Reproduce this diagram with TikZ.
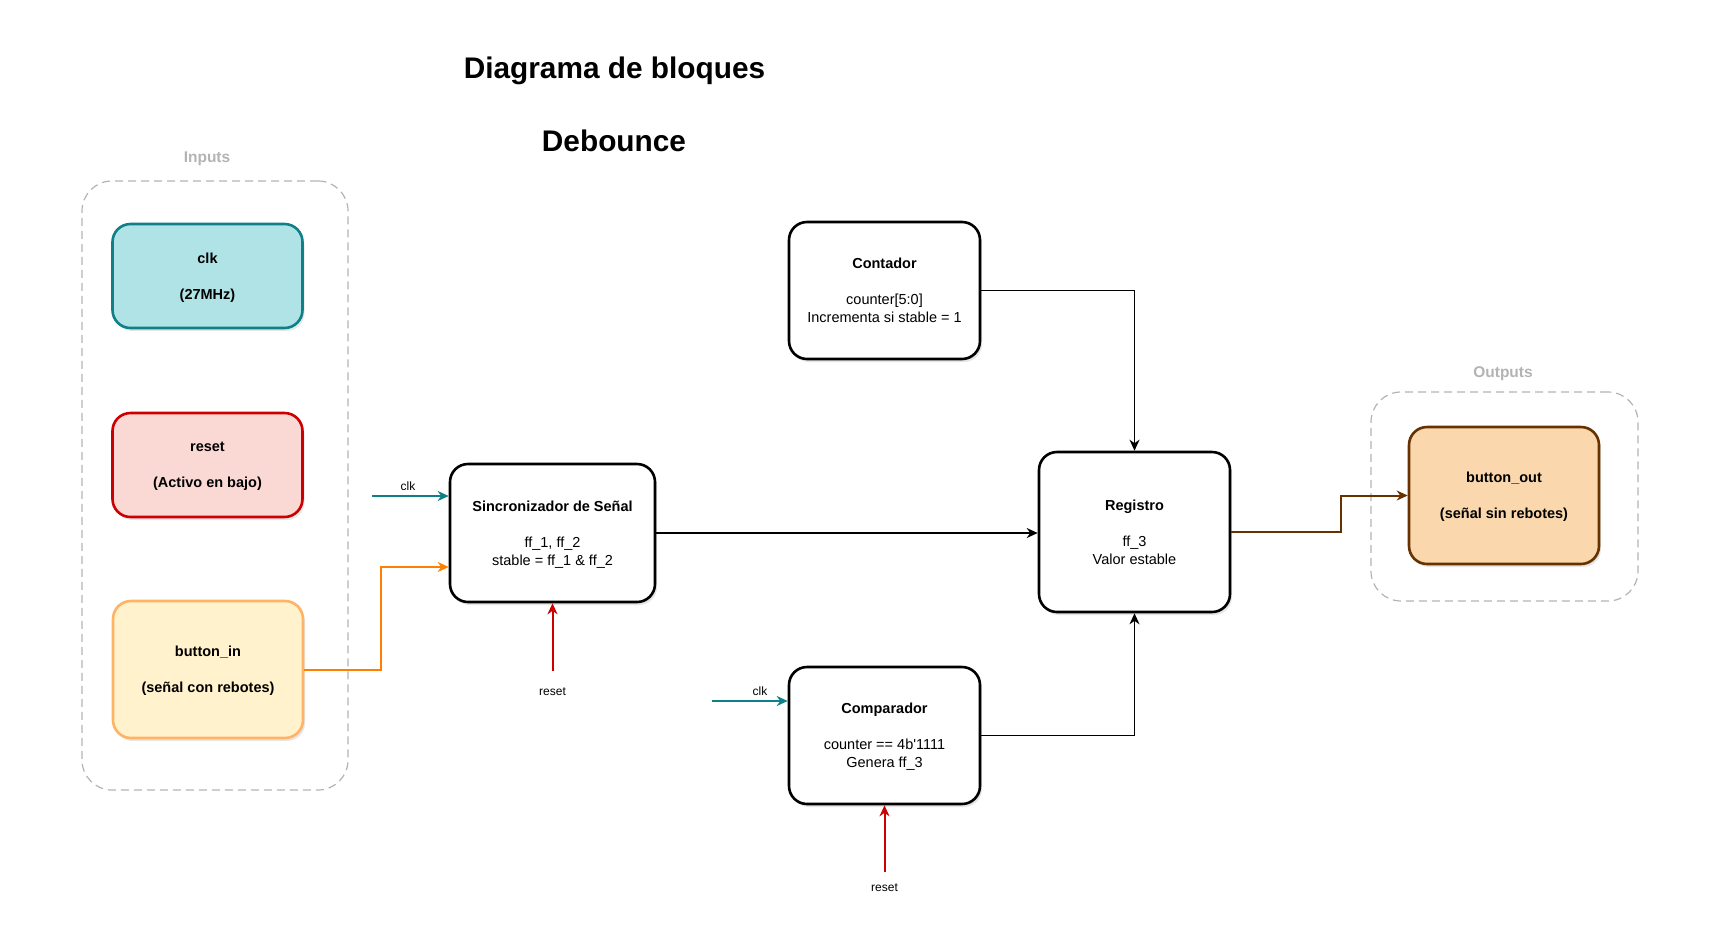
\documentclass[tikz,border=0pt]{standalone}
\usepackage{fontspec}
\setmainfont{Liberation Sans}
\usetikzlibrary{arrows.meta,shadows}

\definecolor{clkfill}{HTML}{B0E3E6}
\definecolor{clkline}{HTML}{0E8088}
\definecolor{rstfill}{HTML}{FAD9D5}
\definecolor{rstline}{HTML}{CC0000}
\definecolor{btnfill}{HTML}{FFF2CC}
\definecolor{btnline}{HTML}{FFB366}
\definecolor{outfill}{HTML}{FAD7AC}
\definecolor{outline}{HTML}{663300}
\definecolor{wireorange}{HTML}{FF8000}
\definecolor{groupgray}{HTML}{B3B3B3}

\begin{document}
\begin{tikzpicture}[
  x=1pt, y=-1pt,
  >={Stealth[length=11pt,width=10pt,inset=3.5pt]},
  groupnode/.style={rectangle, draw=groupgray, dash pattern=on 8pt off 5pt, line width=1.2pt, rounded corners=30pt, inner sep=0pt},
  grouplabel/.style={text=groupgray, font=\fontsize{15.5}{18}\selectfont\bfseries, anchor=base},
  titlenode/.style={font=\fontsize{29.8}{34}\selectfont\bfseries, anchor=base},
  signode/.style={rectangle, rounded corners=18pt, line width=2.6pt, minimum width=190pt, minimum height=104pt, inner sep=0pt, text depth=0pt, align=center, font=\fontsize{14.5}{18}\selectfont\bfseries, drop shadow={shadow xshift=2pt, shadow yshift=-3pt, opacity=0.2}},
  blocknode/.style={rectangle, draw=black, fill=white, rounded corners=18pt, line width=2.6pt, minimum width=191pt, minimum height=137pt, inner sep=0pt, text depth=0pt, align=center, font=\fontsize{14.5}{18}\selectfont, drop shadow={shadow xshift=2pt, shadow yshift=-3pt, opacity=0.2}},
  labelnode/.style={font=\fontsize{12}{14}\selectfont, anchor=base},
]
\useasboundingbox (0,0) rectangle (1728,938);

% titles
\node[titlenode] (title) at (614.5,78) {Diagrama de bloques};
\node[titlenode] (subtitle) at (614,151) {Debounce};

% inputs
\node[groupnode, minimum width=266pt, minimum height=609pt] (inputs) at (215,485.5) {};
\node[grouplabel] (inputslbl) at (207,162) {Inputs};
\node[signode, draw=clkline, fill=clkfill] (clk) at (207.5,276) {clk\\[18pt](27MHz)};
\node[signode, draw=rstline, fill=rstfill] (rst) at (207.5,465) {reset\\[18pt](Activo en bajo)};
\node[signode, draw=btnline, fill=btnfill, minimum height=137pt] (btnin) at (208,669.5) {button\_in\\[18pt](señal con rebotes)};

% outputs
\node[groupnode, minimum width=267pt, minimum height=209pt] (outputs) at (1504.5,496.5) {};
\node[grouplabel] (outputslbl) at (1503,377) {Outputs};
\node[signode, draw=outline, fill=outfill, minimum height=137pt] (btnout) at (1504,495.5) {button\_out\\[18pt](señal sin rebotes)};

% blocks
\node[blocknode, minimum width=205pt, minimum height=138pt] (sync) at (552.5,533) {\textbf{Sincronizador de Señal}\\[18pt]ff\_1, ff\_2\\stable = ff\_1 \& ff\_2};
\node[blocknode] (cnt) at (884.5,290.5) {\textbf{Contador}\\[18pt]counter[5:0]\\Incrementa si stable = 1};
\node[blocknode, minimum height=160pt] (reg) at (1134.5,532) {\textbf{Registro}\\[18pt]ff\_3\\Valor estable};
\node[blocknode] (cmp) at (884.5,735.5) {\textbf{Comparador}\\[18pt]counter == 4b\textquotesingle1111\\Genera ff\_3};

% free ends and their labels
\coordinate (clksync) at (372,496);
\coordinate (rstsync) at (552.5,671);
\coordinate (clkcmp) at (712,701);
\coordinate (rstcmp) at (884.5,872);
\node[labelnode] (clksynclbl) at (408,490) {clk};
\node[labelnode] (rstsynclbl) at (552.5,695) {reset};
\node[labelnode] (clkcmplbl) at (760,695) {clk};
\node[labelnode] (rstcmplbl) at (884.5,891) {reset};

\draw[->, clkline, line width=2pt] (clksync) -- ([yshift=37pt]sync.west);
\draw[->, wireorange, line width=2pt] (btnin.east) -- ++(77,0) |- ([yshift=-34pt]sync.west);
\draw[->, rstline, line width=2pt] (rstsync) -- (sync.south);

\draw[->, line width=1.5pt] (sync.east) -- (sync.east -| reg.west);
\draw[->, line width=1.5pt] (cnt.east) -| (reg.north);
\draw[->, line width=1.5pt] (cmp.east) -| (reg.south);

\draw[->, clkline, line width=2pt] (clkcmp) -- ([yshift=34.5pt]cmp.west);
\draw[->, rstline, line width=2pt] (rstcmp) -- (cmp.south);

\draw[->, outline, line width=2pt] (reg.east) -- ++(110,0) |- (btnout.west);

\end{tikzpicture}
\end{document}
